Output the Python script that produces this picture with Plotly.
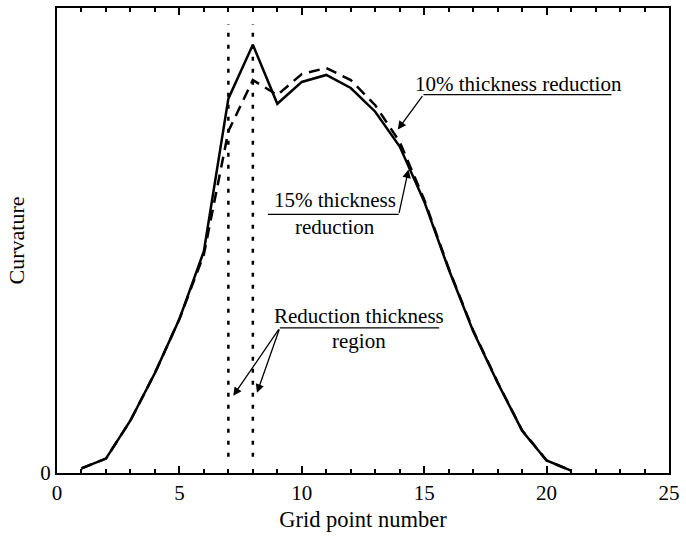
import plotly.graph_objects as go

grid_points = list(range(1, 22))
curv_15 = [0.010, 0.031, 0.113, 0.215, 0.331, 0.477, 0.805, 0.921, 0.794, 0.841, 0.856,
           0.828, 0.777, 0.702, 0.584, 0.438, 0.305, 0.194, 0.091, 0.027, 0.005]
curv_10 = [0.010, 0.031, 0.113, 0.215, 0.331, 0.470, 0.735, 0.845, 0.813, 0.858, 0.871,
           0.845, 0.791, 0.712, 0.588, 0.440, 0.307, 0.195, 0.092, 0.027, 0.005]
region_x = [7, 8]
x_ticks = [0, 5, 10, 15, 20, 25]

FONT = "Liberation Serif, Times New Roman, serif"
FS = 21

fig = go.Figure()
fig.add_trace(go.Scatter(x=grid_points, y=curv_10, mode="lines", name="10% thickness reduction",
                         line=dict(color="black", width=2.5, dash="11px,7px")))
fig.add_trace(go.Scatter(x=grid_points, y=curv_15, mode="lines", name="15% thickness reduction",
                         line=dict(color="black", width=2.5)))

for xv in region_x:
    fig.add_shape(type="line", x0=xv, x1=xv, y0=0.035, y1=0.965, xref="x", yref="y",
                  line=dict(color="black", width=2.5, dash="4px,8px"))

# underlines
for (x0, x1, y) in [(14.97, 22.65, 0.8135), (8.62, 13.96, 0.5563), (9.10, 15.61, 0.3119)]:
    fig.add_shape(type="line", x0=x0, x1=x1, y0=y, y1=y, xref="x", yref="y",
                  line=dict(color="black", width=1.3))

# text labels
for (t, x, y) in [("10% thickness reduction", 18.85, 0.837),
                  ("15% thickness", 11.37, 0.587),
                  ("reduction", 11.37, 0.530),
                  ("Reduction thickness", 12.35, 0.338),
                  ("region", 12.35, 0.284)]:
    fig.add_annotation(text=t, x=x, y=y, xref="x", yref="y", showarrow=False,
                       font=dict(family=FONT, size=FS, color="black"))

# arrows
for (tx, ty, hx, hy) in [(14.97, 0.8135, 13.92, 0.7385),
                         (13.96, 0.5563, 14.36, 0.6527),
                         (9.10, 0.3119, 7.20, 0.1661),
                         (9.10, 0.3119, 8.17, 0.1726)]:
    fig.add_annotation(text="", x=hx, y=hy, ax=tx, ay=ty, xref="x", yref="y",
                       axref="x", ayref="y", showarrow=True, arrowhead=2,
                       arrowsize=1.3, arrowwidth=1.3, arrowcolor="black")

fig.update_layout(
    width=686, height=537,
    margin=dict(l=57, r=11, t=6, b=64),
    paper_bgcolor="white", plot_bgcolor="white",
    showlegend=False,
    font=dict(family=FONT, size=FS, color="black"),
    xaxis=dict(range=[0, 25], tickvals=x_ticks, ticks="inside", ticklen=7, tickwidth=1.5,
               tickcolor="black",
               minor=dict(dtick=1, ticks="inside", ticklen=4, tickwidth=1.5, tickcolor="black"),
               showline=True, linecolor="black", linewidth=2, mirror="ticks",
               showgrid=False, zeroline=False,
               title=dict(text="Grid point number", standoff=7,
                          font=dict(family=FONT, size=22.5, color="black")),
               tickfont=dict(size=FS)),
    yaxis=dict(range=[0, 1], tickvals=[0], ticktext=["0"], ticks="",
               showline=True, linecolor="black", linewidth=2, mirror=True,
               showgrid=False, zeroline=False,
               title=dict(text="Curvature", standoff=10,
                          font=dict(family=FONT, size=22, color="black")),
               tickfont=dict(size=FS)),
)

fig.write_html("out.html")
